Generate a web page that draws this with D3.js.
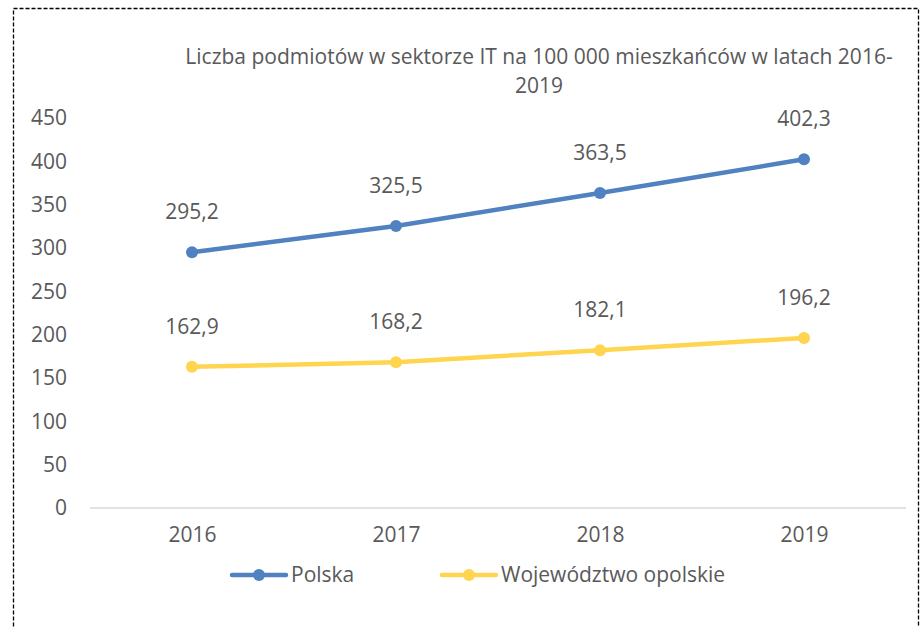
<!DOCTYPE html>
<html><head><meta charset="utf-8">
<script src="https://cdn.jsdelivr.net/npm/d3@7"></script>
<style>body{margin:0;background:#fff}text{font-family:"Open Sans",sans-serif;fill:#595959}</style>
</head><body><svg id="c" width="924" height="627"></svg>
<script>
const categories = ["2016","2017","2018","2019"];
const polska = [295.2, 325.5, 363.5, 402.3];
const opolskie = [162.9, 168.2, 182.1, 196.2];
const seriesNames = ["Polska","Województwo opolskie"];
const yTicks = [0,50,100,150,200,250,300,350,400,450];
const titleLines = ["Liczba podmiotów w sektorze IT na 100 000 mieszkańców w latach 2016-","2019"];
const colors = ["#5081c0","#ffd44f"];
const FS = 21;

const svg = d3.select("#c");
svg.append("rect").attr("x",13.5).attr("y",8.5).attr("width",905).attr("height",640)
  .attr("fill","none").attr("stroke","#000").attr("stroke-width",1.3).attr("stroke-dasharray","4,2");

const x = d3.scalePoint().domain(categories).range([192,804]);
const y = d3.scaleLinear().domain([0,450]).range([508,118]);

svg.selectAll(".tt").data(titleLines).enter().append("text")
  .attr("x",539).attr("y",(d,i)=>64+i*29).attr("text-anchor","middle").attr("font-size",FS).text(d=>d);

const ya = svg.append("g").attr("transform","translate(67,0)")
  .call(d3.axisLeft(y).tickValues(yTicks).tickSize(0).tickPadding(0));
ya.select(".domain").remove();
ya.selectAll("text").attr("font-size",FS).style("font-family","'Open Sans',sans-serif").attr("fill","#595959");

svg.append("line").attr("x1",90).attr("x2",906).attr("y1",y(0)).attr("y2",y(0)).attr("stroke","#d9d9d9").attr("stroke-width",1.5);
const xa = svg.append("g").attr("transform",`translate(0,${y(0)})`)
  .call(d3.axisBottom(x).tickSize(0).tickPadding(19));
xa.select(".domain").remove();
xa.selectAll("text").attr("font-size",FS).style("font-family","'Open Sans',sans-serif").attr("fill","#595959");

[polska, opolskie].forEach((vals,si)=>{
  const line = d3.line().x((d,i)=>x(categories[i])).y(d=>y(d));
  svg.append("path").datum(vals).attr("d",line).attr("fill","none")
    .attr("stroke",colors[si]).attr("stroke-width",4.5).attr("stroke-linecap","round");
  svg.selectAll(null).data(vals).enter().append("circle")
    .attr("cx",(d,i)=>x(categories[i])).attr("cy",d=>y(d)).attr("r",6).attr("fill",colors[si]);
  svg.selectAll(null).data(vals).enter().append("text")
    .attr("x",(d,i)=>x(categories[i])).attr("y",d=>y(d)-33).attr("text-anchor","middle")
    .attr("font-size",FS).text(d=>d.toFixed(1).replace(".",","));
});

const legX = [232, 442];
seriesNames.forEach((n,i)=>{
  const g = svg.append("g").attr("transform",`translate(${legX[i]},575)`);
  g.append("line").attr("x1",0).attr("x2",54).attr("stroke",colors[i]).attr("stroke-width",4.5).attr("stroke-linecap","round");
  g.append("circle").attr("cx",27).attr("r",6).attr("fill",colors[i]);
  g.append("text").attr("x",59).attr("y",7).attr("font-size",FS).text(n);
});
</script></body></html>
